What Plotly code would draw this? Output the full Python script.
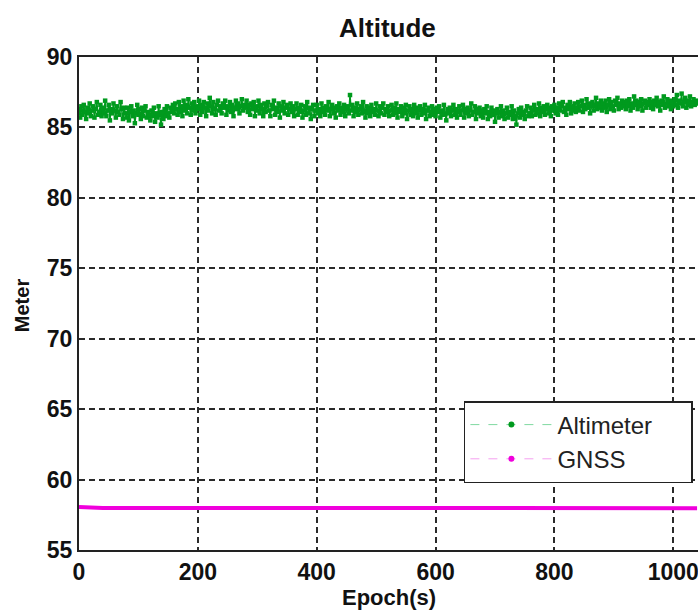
import plotly.graph_objects as go

# Altimeter readings, sampled every 2 epochs (0..1040)
alt_epoch_step = 2
altimeter = [
    86.3, 85.7, 86.5, 85.9, 86.6, 86.1, 85.6, 86.4, 86.0, 86.7, 85.8, 86.2, 86.5, 85.7, 86.3, 86.8, 85.9, 86.1, 86.6, 85.8,
    86.4, 86.0, 86.9, 85.8, 86.2, 86.6, 85.5, 86.3, 86.0, 86.7, 86.2, 85.7, 86.5, 86.1, 85.9, 86.8, 86.3, 85.6, 86.4, 86.0,
    85.7, 86.4, 85.5, 86.1, 86.5, 85.8, 86.2, 85.3, 86.0, 86.6, 85.9, 86.3, 85.6, 86.4, 85.8, 86.2, 86.5, 85.7, 86.1, 85.9,
    85.5, 86.2, 85.8, 86.4, 85.4, 86.0, 85.7, 86.5, 85.9, 85.2, 86.1, 85.6, 86.3, 85.8, 86.5, 86.0, 85.7, 86.4, 86.1, 86.6,
    86.0, 86.7, 86.3, 85.9, 86.8, 86.1, 86.5, 85.8, 86.9, 86.2, 86.6, 86.0, 87.0, 86.4, 85.9, 86.7, 86.2, 86.8, 86.0, 86.5,
    86.3, 86.9, 85.9, 86.6, 86.1, 86.8, 86.4, 85.8, 86.7, 86.2, 87.1, 86.5, 86.0, 86.8, 86.3, 85.9, 86.6, 86.9, 86.2, 86.5,
    86.0, 86.7, 86.4, 86.9, 85.9, 86.5, 86.2, 86.8, 86.1, 86.6, 85.8, 86.4, 86.9, 86.3, 86.7, 86.0, 86.5, 87.0, 86.2, 86.6,
    86.4, 86.9, 86.1, 86.6, 85.9, 86.7, 86.3, 86.8, 85.8, 86.5, 86.2, 86.9, 86.0, 86.6, 86.3, 85.8, 86.7, 86.1, 86.5, 86.8,
    86.2, 85.8, 86.6, 86.3, 86.9, 85.9, 86.4, 86.1, 86.7, 85.7, 86.5, 86.2, 86.8, 86.0, 86.4, 86.6, 85.9, 86.3, 86.7, 86.1,
    86.5, 85.8, 86.3, 86.7, 85.9, 86.4, 86.1, 86.6, 85.7, 86.2, 86.5, 85.9, 86.8, 86.0, 86.4, 85.6, 86.3, 86.6, 85.8, 86.2,
    86.6, 86.0, 86.3, 85.8, 86.7, 86.1, 86.4, 85.9, 86.5, 86.2, 86.8, 85.8, 86.3, 86.6, 86.0, 86.4, 85.7, 86.5, 86.2, 86.7,
    85.9, 86.4, 86.1, 86.6, 85.8, 86.3, 86.5, 86.0, 87.3, 86.2, 86.6, 85.8, 86.4, 86.1, 86.7, 85.9, 86.3, 86.5, 86.0, 86.8,
    86.2, 85.7, 86.5, 86.0, 86.4, 85.8, 86.6, 86.1, 86.3, 85.9, 86.7, 86.2, 85.8, 86.5, 86.0, 86.4, 86.7, 85.9, 86.3, 86.1,
    86.5, 85.8, 86.2, 86.6, 85.9, 86.4, 86.0, 86.7, 85.7, 86.3, 86.1, 86.5, 85.8, 86.4, 86.0, 86.6, 85.6, 86.2, 86.5, 85.9,
    86.3, 85.8, 86.6, 86.0, 86.4, 85.7, 86.2, 86.5, 85.9, 86.3, 86.0, 86.6, 85.6, 86.2, 86.4, 85.8, 86.1, 86.5, 85.9, 86.3,
    85.8, 86.4, 86.1, 86.5, 85.7, 86.2, 85.9, 86.6, 86.0, 85.5, 86.3, 86.0, 86.4, 85.8, 86.2, 86.6, 85.9, 86.3, 85.7, 86.1,
    86.5, 85.9, 86.2, 86.6, 85.7, 86.3, 86.0, 86.4, 85.8, 86.2, 86.7, 85.9, 86.1, 86.5, 85.6, 86.3, 86.0, 86.4, 85.8, 86.2,
    85.7, 86.3, 86.0, 86.5, 85.6, 86.1, 85.8, 86.4, 85.9, 86.2, 85.4, 86.0, 86.3, 85.7, 86.1, 86.5, 85.8, 86.2, 85.6, 86.0,
    86.4, 85.7, 86.1, 85.9, 86.5, 85.6, 86.2, 85.8, 85.2, 86.0, 86.3, 85.7, 86.4, 85.9, 86.1, 85.6, 86.2, 86.5, 85.8, 86.0,
    86.4, 85.8, 86.2, 86.6, 85.9, 86.3, 86.0, 86.7, 85.8, 86.4, 86.1, 86.5, 85.9, 86.3, 86.6, 86.0, 86.4, 85.8, 86.5, 86.2,
    86.6, 86.0, 86.4, 85.9, 86.7, 86.2, 86.5, 86.8, 86.1, 86.4, 85.9, 86.6, 86.3, 86.8, 86.0, 86.5, 86.2, 86.7, 86.1, 86.4,
    86.8, 86.2, 86.5, 86.9, 86.1, 86.6, 86.3, 87.0, 86.4, 86.7, 86.0, 86.5, 86.8, 86.2, 86.6, 87.1, 86.3, 86.7, 86.4, 86.9,
    86.2, 86.7, 86.4, 86.9, 86.1, 86.6, 87.0, 86.3, 86.8, 86.5, 86.2, 86.9, 86.6, 87.1, 86.3, 86.7, 86.4, 86.9, 86.5, 86.8,
    86.3, 86.9, 86.5, 87.0, 86.2, 86.7, 86.4, 87.2, 86.6, 86.9, 86.3, 86.8, 86.5, 87.0, 86.2, 86.7, 86.9, 86.4, 86.8, 86.6,
    87.0, 86.4, 86.8, 86.3, 86.9, 86.6, 87.1, 86.5, 86.8, 86.2, 86.9, 86.6, 87.2, 86.4, 86.7, 87.0, 86.5, 86.9, 86.3, 86.8,
    86.5, 87.0, 86.6, 87.3, 86.4, 86.9, 86.7, 87.4, 86.5, 86.8, 87.1, 86.4, 86.9, 86.6, 87.2, 86.5, 86.8, 87.0, 86.6, 86.9,
    86.7,
]
alt_epochs = [i * alt_epoch_step for i in range(len(altimeter))]

# GNSS altitude, sampled every 20 epochs (0..1040)
gnss_epoch_step = 20
gnss = [
    58.05, 57.99, 57.98, 57.98, 57.98, 57.98, 57.98, 57.98, 57.98, 57.98,
    57.98, 57.98, 57.98, 57.98, 57.98, 57.98, 57.98, 57.98, 57.98, 57.98,
    57.95, 57.96, 57.94, 57.96, 57.93, 57.95, 57.94, 57.93, 57.95, 57.94,
    57.96, 57.95, 57.97, 57.96, 57.97, 57.97, 57.96, 57.97, 57.97, 57.97,
    57.97, 57.97, 57.97, 57.97, 57.97, 57.97, 57.97, 57.97, 57.97, 57.97,
    57.97, 57.97, 57.97,
]
gnss_epochs = [i * gnss_epoch_step for i in range(len(gnss))]

x_ticks = [0, 200, 400, 600, 800, 1000]
y_ticks = [55, 60, 65, 70, 75, 80, 85, 90]
series_names = ["Altimeter", "GNSS"]

FONT = "Arial, Liberation Sans, sans-serif"
GREEN = "#009a1e"
MAGENTA = "#f000dc"

# The original figure is wider than the visible window; it is cropped at 698 px.
FIG_W, FIG_H = 780, 610
L, T, B = 79, 57, 60
PW = FIG_W - L            # plot width in px
PH = FIG_H - T - B        # plot height in px
PX_PER_UNIT = 0.596       # x pixels per epoch
X_MAX = PW / PX_PER_UNIT
PAD = "\u00a0" * 5        # right padding inside the legend box


def px(xp):
    return (xp - L) / PW


def py(yp):
    return (FIG_H - B - yp) / PH


fig = go.Figure()
fig.add_trace(go.Scatter(
    x=alt_epochs, y=altimeter, name=series_names[0],
    mode="lines+markers",
    line=dict(color=GREEN, width=1.5),
    marker=dict(color=GREEN, size=4.5, symbol="square"),
    showlegend=False,
))
fig.add_trace(go.Scatter(
    x=gnss_epochs, y=gnss, name=series_names[1],
    mode="lines",
    line=dict(color=MAGENTA, width=4),
    showlegend=False,
))
# legend entries with the dashed pale style
fig.add_trace(go.Scatter(
    x=[None], y=[None], name=series_names[0] + PAD, mode="lines+markers",
    line=dict(color="#7fd9a0", width=1, dash="dash"),
    marker=dict(color=GREEN, size=6),
))
fig.add_trace(go.Scatter(
    x=[None], y=[None], name=series_names[1], mode="lines+markers",
    line=dict(color="#f5a0f0", width=1, dash="dash"),
    marker=dict(color=MAGENTA, size=6),
))

axis_common = dict(
    showgrid=True, gridcolor="#2a2a2a", griddash="6px,4px", gridwidth=1.5,
    showline=True, linecolor="#222", linewidth=2, mirror=True,
    zeroline=False, ticks="",
    tickfont=dict(family=FONT, size=23, color="#111"),
)

fig.update_layout(
    width=FIG_W, height=FIG_H,
    margin=dict(l=L, r=0, t=T, b=B),
    paper_bgcolor="white", plot_bgcolor="white",
    showlegend=True,
    font=dict(family=FONT),
    legend=dict(
        x=px(465), y=py(401), xanchor="left", yanchor="top",
        bgcolor="white", bordercolor="#222", borderwidth=1.5,
        font=dict(family=FONT, size=24, color="#222"),
        itemwidth=82, tracegroupgap=0,
    ),
    annotations=[
        dict(text="<b>Altitude</b>", x=px(388), y=py(28),
             xref="paper", yref="paper", xanchor="center", yanchor="middle",
             showarrow=False, font=dict(family=FONT, size=26, color="#111")),
        dict(text="<b>Epoch(s)</b>", x=px(390), y=py(597),
             xref="paper", yref="paper", xanchor="center", yanchor="middle",
             showarrow=False, font=dict(family=FONT, size=22, color="#111")),
        dict(text="<b>Meter</b>", x=px(22), y=py(305),
             xref="paper", yref="paper", xanchor="center", yanchor="middle",
             textangle=-90, showarrow=False,
             font=dict(family=FONT, size=20, color="#111")),
    ],
)

fig.update_xaxes(range=[0, X_MAX], tickvals=x_ticks,
                 ticktext=[f"<b>{v}</b>" for v in x_ticks], **axis_common)
fig.update_yaxes(range=[55, 90], tickvals=y_ticks,
                 ticktext=[f"<b>{v}</b>" for v in y_ticks], **axis_common)

fig.write_html(
    "out.html",
    config={"displayModeBar": False},
    post_script=("document.body.style.margin='0';document.body.style.padding='0';"
                 "document.body.style.overflow='hidden';"
                 "document.documentElement.style.overflow='hidden';"),
)
